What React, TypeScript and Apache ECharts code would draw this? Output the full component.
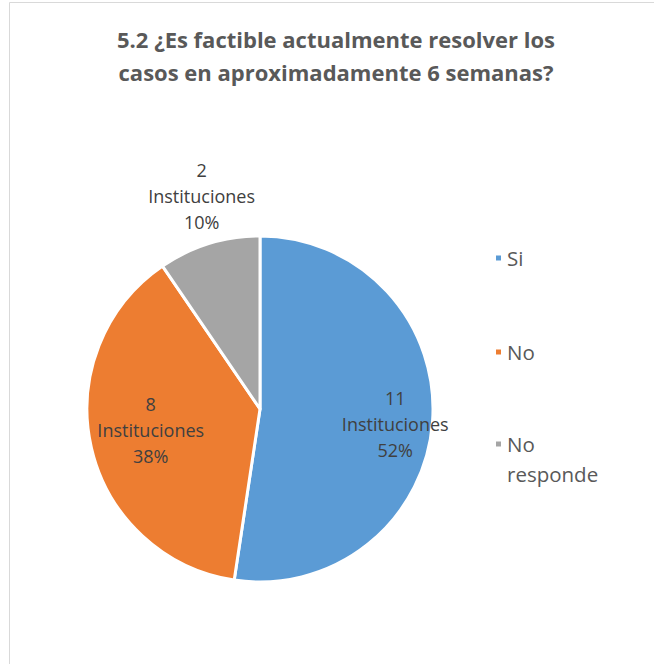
import React, { useEffect, useRef } from "react";
import * as echarts from "echarts";

const titleLines = ["5.2 ¿Es factible actualmente resolver los", "casos en aproximadamente 6 semanas?"];
const categories = ["Si", "No", "No responde"];
const values = [11, 8, 2];
const unitLabel = "Instituciones";
const colors = ["#5b9bd5", "#ed7d31", "#a5a5a5"];
// label offsets from the default inside position
const labelShift = [
  [46, 8],
  [-22, 1],
  [-32, -127],
];

export default function App() {
  const ref = useRef<HTMLDivElement>(null);
  useEffect(() => {
    if (!ref.current) return;
    const chart = echarts.init(ref.current, null, { renderer: "svg" });
    const font = "'Open Sans', 'Noto Sans', sans-serif";
    const legendText = {
      fontFamily: font,
      fontSize: 20.5,
      lineHeight: 30,
      color: "#595959",
    };
    chart.setOption({
      animation: false,
      backgroundColor: "#ffffff",
      title: {
        text: titleLines.join("\n"),
        left: 336,
        textAlign: "center",
        top: 22,
        padding: 0,
        textStyle: {
          fontFamily: font,
          fontWeight: "bold",
          fontSize: 22,
          lineHeight: 33,
          color: "#595959",
        },
      },
      graphic: [
        {
          type: "rect",
          shape: { x: 9.5, y: 2.5, width: 700, height: 700 },
          style: { fill: "none", stroke: "#d9d9d9", lineWidth: 1 },
          silent: true,
        },
      ],
      legend: [
        {
          orient: "vertical",
          left: 494,
          top: 243,
          padding: 0,
          itemWidth: 7,
          itemHeight: 7,
          itemGap: 64,
          icon: "rect",
          textStyle: legendText,
          data: categories.slice(0, 2),
        },
        {
          orient: "vertical",
          left: 494,
          top: 399,
          padding: 0,
          itemWidth: 7,
          itemHeight: 7,
          icon: "rect",
          textStyle: legendText,
          data: categories.slice(2),
          // leading blank line keeps the first word level with the marker
          formatter: (name: string) => "\n" + name.replace(" ", "\n"),
        },
      ],
      series: [
        {
          type: "pie",
          center: [260, 409],
          radius: [0, 173],
          startAngle: 90,
          clockwise: true,
          data: categories.map((c, i) => ({
            name: c,
            value: values[i],
            itemStyle: { color: colors[i] },
          })),
          itemStyle: { borderColor: "#ffffff", borderWidth: 3 },
          label: {
            show: true,
            position: "inside",
            fontFamily: font,
            fontSize: 18,
            lineHeight: 26,
            color: "#404040",
            align: "center",
            formatter: (p: any) => `${p.value}\n${unitLabel}\n${Math.round(p.percent)}%`,
          },
          labelLine: { show: false },
          labelLayout: (p: any) => ({
            dx: labelShift[p.dataIndex][0],
            dy: labelShift[p.dataIndex][1],
          }),
          emphasis: { disabled: true },
        },
      ],
    });
    return () => chart.dispose();
  }, []);
  return (
    <div
      ref={ref}
      style={{ position: "absolute", left: 0, top: 0, width: 654, height: 664 }}
    />
  );
}
